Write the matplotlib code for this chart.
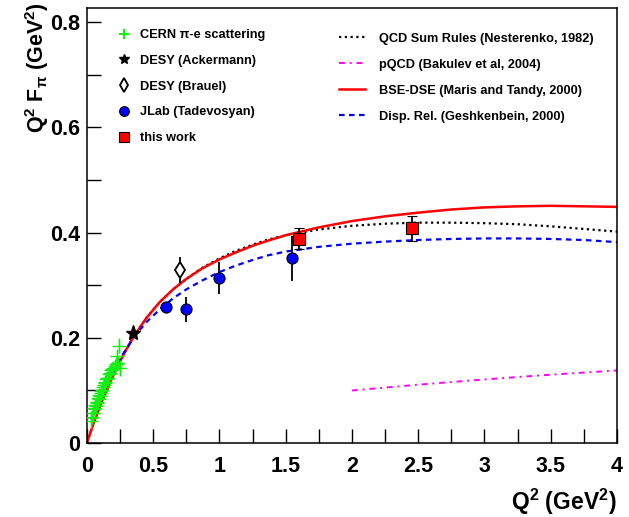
import numpy as np
import matplotlib.pyplot as plt
from matplotlib.ticker import MultipleLocator, FormatStrFormatter
from matplotlib.lines import Line2D

plt.rcParams['font.family'] = ['Liberation Sans', 'DejaVu Sans']
plt.rcParams['font.weight'] = 'bold'
plt.rcParams['mathtext.fontset'] = 'custom'
plt.rcParams['mathtext.rm'] = 'Liberation Sans:bold'
plt.rcParams['mathtext.it'] = 'Liberation Sans:bold'
plt.rcParams['mathtext.bf'] = 'Liberation Sans:bold'

# ---- donnees experimentales ----
# CERN pi-e scattering
q2_cern = [0.030, 0.035, 0.040, 0.045, 0.050, 0.055, 0.060, 0.065, 0.070, 0.075,
           0.080, 0.085, 0.090, 0.095, 0.100, 0.105, 0.110, 0.115, 0.120, 0.128,
           0.135, 0.140, 0.148, 0.155, 0.162, 0.170, 0.178, 0.185, 0.192, 0.200,
           0.210, 0.220, 0.226, 0.235, 0.245, 0.253]
f_cern = [0.042, 0.048, 0.050, 0.058, 0.057, 0.066, 0.064, 0.072, 0.070, 0.079,
          0.077, 0.085, 0.083, 0.091, 0.089, 0.096, 0.099, 0.101, 0.107, 0.110,
          0.116, 0.114, 0.121, 0.124, 0.123, 0.131, 0.133, 0.138, 0.140, 0.142,
          0.146, 0.150, 0.165, 0.152, 0.185, 0.142]
e_cern = [0.002, 0.002, 0.002, 0.003, 0.003, 0.003, 0.003, 0.003, 0.004, 0.004,
          0.004, 0.004, 0.005, 0.005, 0.005, 0.005, 0.006, 0.006, 0.006, 0.006,
          0.007, 0.007, 0.007, 0.008, 0.008, 0.008, 0.009, 0.009, 0.010, 0.010,
          0.011, 0.012, 0.012, 0.013, 0.014, 0.015]

# DESY
q2_ack, f_ack = [0.35], [0.209]
q2_brauel, f_brauel, e_brauel = [0.70], [0.329], [0.024]

# JLab (Tadevosyan)
q2_jlab = [0.60, 0.75, 1.00, 1.55]
f_jlab = [0.259, 0.254, 0.314, 0.351]
e_jlab = [0.010, 0.024, 0.030, 0.042]

# ce travail
q2_tw = [1.60, 2.45]
f_tw = [0.388, 0.408]
e_tw = [0.020, 0.024]

# ---- courbes theoriques ----
q2_bse = [0.0, 0.06, 0.12, 0.18, 0.24, 0.30, 0.36, 0.45, 0.55, 0.65, 0.75,
          0.87, 1.0, 1.12, 1.25, 1.37, 1.5, 1.75, 2.0, 2.25, 2.5, 2.75, 3.0,
          3.25, 3.5, 3.75, 4.0]
f_bse = [0.0, 0.044, 0.083, 0.118, 0.150, 0.179, 0.205, 0.238, 0.268, 0.292,
         0.312, 0.332, 0.349, 0.362, 0.375, 0.385, 0.395, 0.410, 0.422, 0.431,
         0.438, 0.444, 0.448, 0.450, 0.451, 0.450, 0.449]

q2_sr = [0.0, 0.06, 0.12, 0.18, 0.24, 0.30, 0.36, 0.45, 0.55, 0.65, 0.75,
         0.87, 1.0, 1.12, 1.25, 1.37, 1.5, 1.75, 2.0, 2.25, 2.5, 2.75, 3.0,
         3.25, 3.5, 3.75, 4.0]
f_sr = [0.0, 0.044, 0.083, 0.118, 0.150, 0.179, 0.205, 0.238, 0.268, 0.292,
        0.312, 0.333, 0.351, 0.365, 0.377, 0.387, 0.395, 0.406, 0.413, 0.417,
        0.419, 0.419, 0.418, 0.416, 0.412, 0.407, 0.402]

q2_disp = [0.20, 0.27, 0.36, 0.45, 0.55, 0.65, 0.75, 0.87, 1.0, 1.12, 1.25,
           1.37, 1.5, 1.75, 2.0, 2.25, 2.5, 2.75, 3.0, 3.25, 3.5, 3.75, 4.0]
f_disp = [0.134, 0.168, 0.203, 0.230, 0.254, 0.275, 0.292, 0.309, 0.325, 0.337,
          0.348, 0.357, 0.364, 0.373, 0.379, 0.383, 0.386, 0.388, 0.389, 0.389,
          0.388, 0.386, 0.382]

q2_pqcd = [2.0, 2.5, 3.0, 3.5, 4.0]
f_pqcd = [0.100, 0.111, 0.121, 0.130, 0.138]

###############################################################################
fig = plt.figure(figsize=(6.29, 5.17), dpi=100)
ax = fig.add_axes([0.138, 0.143, 0.843, 0.8415])

l_sr, = ax.plot(q2_sr, f_sr, color='black', ls=(0, (1, 1.6)), lw=1.6)
l_pqcd, = ax.plot(q2_pqcd, f_pqcd, color='magenta', ls=(0, (3, 2.5, 1, 2.5)), lw=1.4)
l_bse, = ax.plot(q2_bse, f_bse, color='red', ls='-', lw=1.8)
l_disp, = ax.plot(q2_disp, f_disp, color='blue', ls=(0, (2.5, 2)), lw=1.6)

ax.errorbar(q2_cern, f_cern, yerr=e_cern, fmt='+', color='#11f011', ms=10,
            mew=1.0, elinewidth=1.0, capsize=0, zorder=5)
ax.plot(q2_ack, f_ack, '*', color='black', ms=11, zorder=6)
ax.errorbar(q2_brauel, f_brauel, yerr=e_brauel, fmt='d', mfc='white', mec='black',
            ecolor='black', ms=8, mew=1.3, elinewidth=1.3, capsize=0, zorder=6)
ax.errorbar(q2_jlab, f_jlab, yerr=e_jlab, fmt='o', mfc='blue', mec='black',
            ecolor='black', ms=8, mew=0.8, elinewidth=1.3, capsize=0, zorder=6)
ax.errorbar(q2_tw, f_tw, yerr=e_tw, fmt='s', mfc='red', mec='black',
            ecolor='black', ms=8, mew=0.8, elinewidth=1.3, capsize=3.5,
            capthick=1.3, zorder=7)

ax.set_xlim(0, 4)
ax.set_ylim(0, 0.827)
ax.xaxis.set_major_locator(MultipleLocator(0.5))
ax.xaxis.set_minor_locator(MultipleLocator(0.25))
ax.yaxis.set_major_locator(MultipleLocator(0.2))
ax.yaxis.set_minor_locator(MultipleLocator(0.1))
ax.xaxis.set_major_formatter(FormatStrFormatter('%g'))
ax.yaxis.set_major_formatter(FormatStrFormatter('%g'))
ax.tick_params(which='both', direction='in', length=10, width=1.0,
               labelsize=15.5, top=False, right=False)
ax.tick_params(axis='x', pad=9)
ax.tick_params(axis='y', pad=5)
for s in ax.spines.values():
    s.set_linewidth(1.1)
for lab in ax.get_xticklabels() + ax.get_yticklabels():
    lab.set_fontweight('bold')

ax.set_xlabel(r'Q$^2$ (GeV$^2$)', fontsize=16.5, fontweight='bold', ha='right')
ax.xaxis.set_label_coords(1.0, -0.1)
ax.set_ylabel(r'Q$^2$ F$_\pi$ (GeV$^2$)', fontsize=15.5, fontweight='bold', ha='right')
ax.yaxis.set_label_coords(-0.068, 1.012)

# legendes
h_left = [Line2D([], [], ls='none', marker='+', color='#11f011', ms=7, mew=1.5),
          Line2D([], [], ls='none', marker='*', color='black', ms=7),
          Line2D([], [], ls='none', marker='d', mfc='white', mec='black', ms=7, mew=1.3),
          Line2D([], [], ls='none', marker='o', mfc='blue', mec='black', ms=7, mew=0.8),
          Line2D([], [], ls='none', marker='s', mfc='red', mec='black', ms=7, mew=0.8)]
lab_left = ['CERN π-e scattering', 'DESY (Ackermann)', 'DESY (Brauel)',
            'JLab (Tadevosyan)', 'this work']
leg1 = ax.legend(h_left, lab_left, loc='upper left', bbox_to_anchor=(0.03, 0.978),
                 frameon=False, prop={'size': 9.2, 'weight': 'bold'},
                 labelspacing=1.08, handletextpad=0.5, handlelength=1.5)
ax.add_artist(leg1)

lab_right = ['QCD Sum Rules (Nesterenko, 1982)', 'pQCD (Bakulev et al, 2004)',
             'BSE-DSE (Maris and Tandy, 2000)', 'Disp. Rel. (Geshkenbein, 2000)']
ax.legend([l_sr, l_pqcd, l_bse, l_disp], lab_right, loc='upper left',
          bbox_to_anchor=(0.453, 0.97), frameon=False,
          prop={'size': 9.2, 'weight': 'bold'},
          labelspacing=1.1, handletextpad=1.1, handlelength=2.1)

fig.savefig('out.png', dpi=100)
